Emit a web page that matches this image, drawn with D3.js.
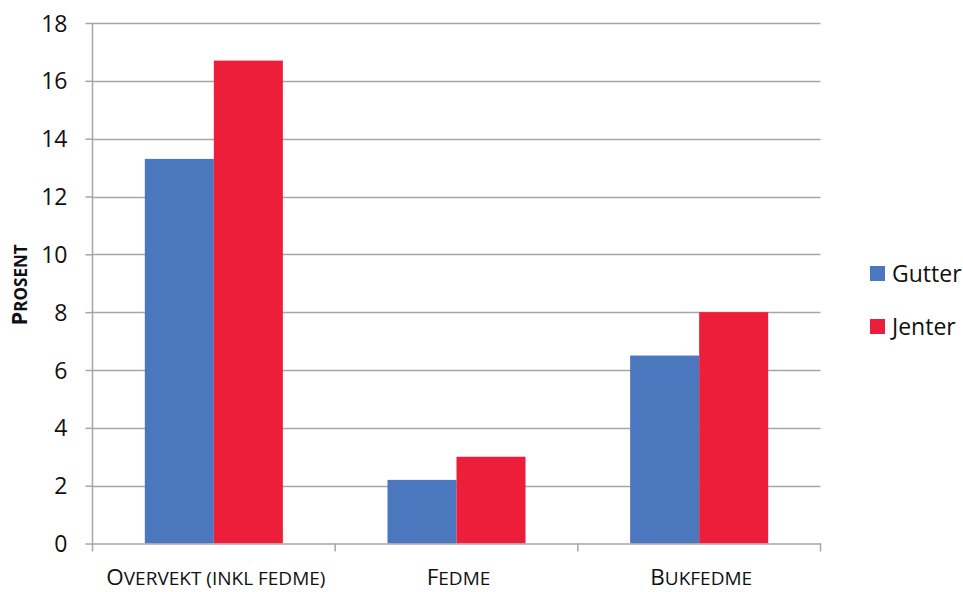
<!DOCTYPE html>
<html><head><meta charset="utf-8">
<script src="https://cdn.jsdelivr.net/npm/d3@7"></script>
<style>body{margin:0;background:#fff}svg{display:block;font-family:"Open Sans",Lato,sans-serif}</style>
</head><body><svg id="c" width="963" height="592"></svg>
<script>
const categories = [["O","VERVEKT (INKL FEDME)"],["F","EDME"],["B","UKFEDME"]];
const series = ["Gutter","Jenter"];
const gutter = [13.3, 2.2, 6.5];
const jenter = [16.7, 3.0, 8.0];
const yTicks = [0,2,4,6,8,10,12,14,16,18];
const colors = ["#4a77bd","#ec1e3a"];

(function(){
const svg = d3.select("#c");
const pLeft=92.5, pRight=820.5, pTop=23, pBottom=543.5;
const catKeys = categories.map(c=>c.join(""));
const x0 = d3.scaleBand().domain(catKeys).range([pLeft,pRight]).padding(0);
const x1 = d3.scaleBand().domain(series).range([0,x0.bandwidth()]).paddingInner(0).paddingOuter(0.758);
const y = d3.scaleLinear().domain([0,18]).range([pBottom,pTop]);
const grey="#a6a6a6";

// gridlines
svg.append("g").selectAll("line").data(yTicks.filter(d=>d>0)).join("line")
  .attr("x1",pLeft).attr("x2",pRight).attr("y1",d=>Math.round(y(d))+0.5).attr("y2",d=>Math.round(y(d))+0.5)
  .attr("stroke",grey).attr("stroke-width",1.5);

// bars
const vals = [gutter, jenter];
series.forEach((s,si)=>{
  svg.append("g").selectAll("rect").data(catKeys).join("rect")
    .attr("x",d=>x0(d)+x1(s)).attr("width",x1.bandwidth())
    .attr("y",(d,i)=>y(vals[si][i])).attr("height",(d,i)=>pBottom-y(vals[si][i]))
    .attr("fill",colors[si]);
});

// y axis
const ya = svg.append("g").attr("transform",`translate(${pLeft},0)`)
  .call(d3.axisLeft(y).tickValues(yTicks).tickSize(7).tickPadding(18).tickFormat(d3.format("d")));
ya.select(".domain").attr("stroke",grey).attr("stroke-width",1.5).attr("d",`M0,${pTop}V${pBottom}`);
ya.selectAll(".tick line").attr("stroke",grey).attr("stroke-width",1.5);
ya.selectAll(".tick text").attr("font-size",23).attr("fill","#111").attr("font-family","Open Sans").attr("dy","0.35em");

// x axis
const xa = svg.append("g").attr("transform",`translate(0,${pBottom})`)
  .call(d3.axisBottom(x0).tickValues([]).tickSizeOuter(0));
xa.select(".domain").attr("stroke",grey).attr("stroke-width",1.5);
const bounds = [pLeft, ...catKeys.map(k=>x0(k)+x0.bandwidth())];
xa.selectAll("line.b").data(bounds).join("line").attr("class","b")
  .attr("x1",d=>d).attr("x2",d=>d).attr("y1",0).attr("y2",8).attr("stroke",grey).attr("stroke-width",1.5);

// category labels (small caps)
const cl = svg.append("g").selectAll("text").data(categories).join("text")
  .attr("x",(d,i)=>x0(catKeys[i])+x0.bandwidth()/2+2).attr("y",585)
  .attr("text-anchor","middle").attr("fill","#111");
cl.append("tspan").attr("font-size",22.5).text(d=>d[0]);
cl.append("tspan").attr("font-size",19).text(d=>d[1]);

// y title
const yt = svg.append("text").attr("transform","translate(27,285) rotate(-90)")
  .attr("text-anchor","middle").attr("font-weight","bold").attr("fill","#111");
yt.append("tspan").attr("font-size",22).text("P");
yt.append("tspan").attr("font-size",17).text("ROSENT");

// legend
const lg = svg.append("g").selectAll("g").data(series).join("g")
  .attr("transform",(d,i)=>`translate(870,${266+i*53})`);
lg.append("rect").attr("width",15).attr("height",15).attr("fill",(d,i)=>colors[i]);
lg.append("text").attr("x",22).attr("y",16).attr("font-size",23).attr("fill","#111").text(d=>d);
})();
</script></body></html>
